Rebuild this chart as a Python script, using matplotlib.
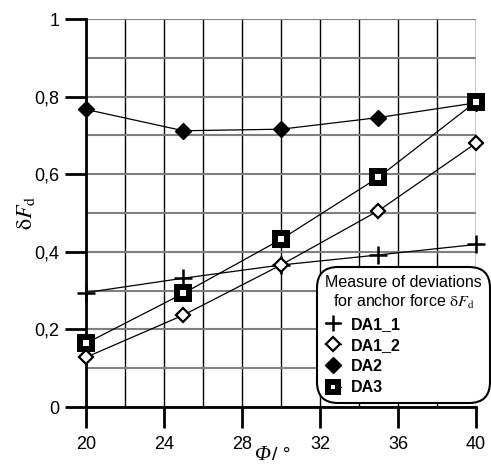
import matplotlib
matplotlib.use("Agg")
import matplotlib.pyplot as plt
from matplotlib.ticker import MultipleLocator, FuncFormatter

phi = [20, 25, 30, 35, 40]
da1_1 = [0.295, 0.332, 0.366, 0.392, 0.419]
da1_2 = [0.128, 0.237, 0.366, 0.506, 0.680]
da2 = [0.767, 0.712, 0.716, 0.746, 0.784]
da3 = [0.164, 0.293, 0.432, 0.592, 0.787]

x_ticks = [20, 24, 28, 32, 36, 40]
y_ticks = [0, 0.2, 0.4, 0.6, 0.8, 1.0]

plt.rcParams['font.family'] = ['Liberation Sans', 'DejaVu Sans']
plt.rcParams['mathtext.fontset'] = 'stix'

fig = plt.figure(figsize=(4.91, 4.66), dpi=100)
ax = fig.add_axes([0.175, 0.1266, 0.7945, 0.8326])

ax.set_xlim(20, 40)
ax.set_ylim(0, 1)

# grid
ax.xaxis.set_minor_locator(MultipleLocator(2))
ax.yaxis.set_minor_locator(MultipleLocator(0.1))
ax.grid(True, which='both', axis='x', color='black', lw=1.0, zorder=0)
ax.grid(True, which='both', axis='y', color='#808080', lw=1.5, zorder=0)
ax.set_axisbelow(True)

lw = 0.9
ax.plot(phi, da1_1, color='black', lw=lw, marker='+', ms=13, mew=1.8, zorder=3, clip_on=False, label='DA1_1')
ax.plot(phi, da1_2, color='black', lw=lw, marker='D', ms=7.5, mfc='white', mec='black', mew=1.6, zorder=3, clip_on=False, label='DA1_2')
ax.plot(phi, da2, color='black', lw=lw, marker='D', ms=8.5, mfc='black', mec='black', zorder=3, clip_on=False, label='DA2')
ax.plot(phi, da3, color='black', lw=lw, marker='s', ms=8.5, mfc='white', mec='black', mew=4.3, zorder=4, clip_on=False, label='DA3')

ax.set_xticks(x_ticks)
ax.set_yticks(y_ticks)
ax.yaxis.set_major_formatter(FuncFormatter(lambda v, p: ('%g' % v).replace('.', ',')))
ax.tick_params(which='major', direction='out', length=15, width=2, labelsize=13, pad=4)
ax.tick_params(axis='x', which='major', pad=6)
ax.tick_params(which='minor', length=0)

for s in ['top', 'right']:
    ax.spines[s].set_visible(False)
for s in ['left', 'bottom']:
    ax.spines[s].set_linewidth(2)

ax.set_ylabel(r'$\mathrm{\delta}F_{\mathrm{d}}$', fontsize=16)
ax.yaxis.set_label_coords(-0.125, 0.5)

# x label: italic serif Phi followed by "/ °"
fig.text(0.552, 0.012, 'Φ', fontsize=15, family=['Liberation Serif'], style='italic',
         ha='right', va='baseline')
fig.text(0.554, 0.012, '/ °', fontsize=14, ha='left', va='baseline')

leg = ax.legend(loc='lower right', bbox_to_anchor=(1.036, 0.01), borderaxespad=0,
                title='Measure of deviations\nfor anchor force $\\mathrm{\\delta}F_{\\mathrm{d}}$',
                prop={'weight': 'bold', 'size': 11.5}, title_fontsize=11.5,
                frameon=True, fancybox=True, framealpha=1, edgecolor='black',
                handlelength=1.0, handletextpad=0.6, labelspacing=0.38,
                borderpad=0.5, markerscale=0.9)
leg.get_frame().set_linewidth(1.5)
leg.get_frame().set_boxstyle('round', pad=0, rounding_size=1.3)
leg._legend_box.align = 'left'
leg.get_title().set_ha('center')
leg.set_zorder(10)

fig.savefig('out.png', dpi=100)
